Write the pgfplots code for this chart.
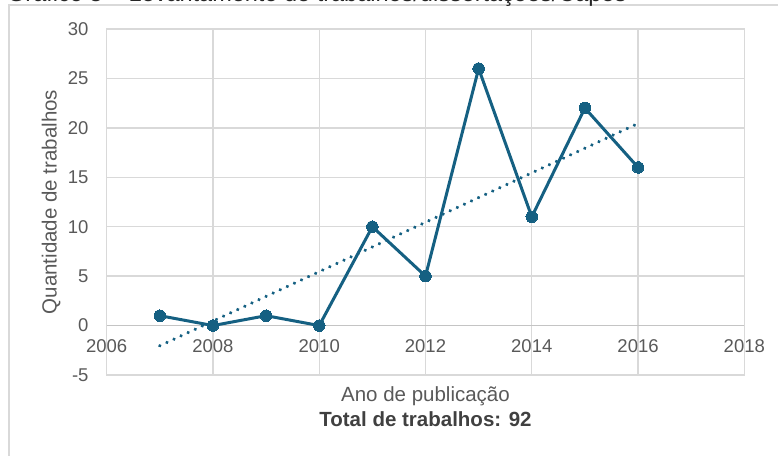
\documentclass[border=0pt]{standalone}
\usepackage{fontspec}
\setmainfont{Liberation Sans}
\usepackage{pgfplots}
\pgfplotsset{compat=1.18}
\definecolor{lineblue}{HTML}{156082}
\definecolor{gridgray}{HTML}{D9D9D9}
\definecolor{axisgray}{HTML}{C4C4C4}
\definecolor{txtgray}{HTML}{595959}
\definecolor{boldgray}{HTML}{404040}
\begin{document}
\begin{tikzpicture}[x=1pt,y=1pt]
\useasboundingbox (0,0) rectangle (778,455);
\draw[gridgray, line width=1.2pt] (9,-20) -- (9,450) -- (800,450);
\node[anchor=base west, inner sep=0pt, font=\fontsize{23.5}{27}\selectfont, text=black!85] at (7,453) {Gráfico 3 – Levantamento de trabalhos/dissertações/Capes};
\begin{axis}[
  at={(106.7pt,80pt)}, anchor=south west,
  scale only axis, width=637.6pt, height=346pt,
  xmin=2006, xmax=2018, ymin=-5, ymax=30,
  xtick={2006,2008,...,2018}, ytick={-5,0,...,30},
  grid=major, grid style={gridgray, line width=1.3pt},
  axis line style={gridgray, line width=1.3pt},
  major tick length=0pt,
  tick label style={font=\fontsize{18.5}{21}\selectfont, text=txtgray},
  /pgf/number format/assume math mode=true,
  /pgf/number format/1000 sep={},
  xticklabel style={inner sep=0pt, anchor=north, yshift=36pt},
  yticklabel style={inner sep=0pt, anchor=east, xshift=-18pt},
  extra y ticks={0}, extra y tick labels={},
  extra y tick style={grid style={axisgray, line width=1.5pt}},
  xlabel={Ano de publicação\\{\bfseries\color{boldgray}Total de trabalhos: 92}},
  xlabel style={at={(axis description cs:0.5,0)}, anchor=north, yshift=-11pt, inner sep=0pt, align=center, font=\fontsize{20.5}{25}\selectfont, text=txtgray},
  ylabel={Quantidade de trabalhos},
  ylabel style={at={(axis description cs:0,0.5)}, anchor=south, yshift=46pt, inner sep=0pt, font=\fontsize{20.5}{25}\selectfont, text=txtgray},
]
\addplot[lineblue, line width=3pt, mark=*, mark size=5.8pt, mark options={solid, fill=lineblue, draw=lineblue, line width=0pt}]
  coordinates {(2007,1) (2008,0) (2009,1) (2010,0) (2011,10) (2012,5) (2013,26) (2014,11) (2015,22) (2016,16)};
\addplot[lineblue, line width=3.6pt, line cap=round, dash pattern=on 0.01pt off 7.8pt, no marks]
  coordinates {(2007,-2.04) (2016,20.44)};
\end{axis}
\end{tikzpicture}
\end{document}
